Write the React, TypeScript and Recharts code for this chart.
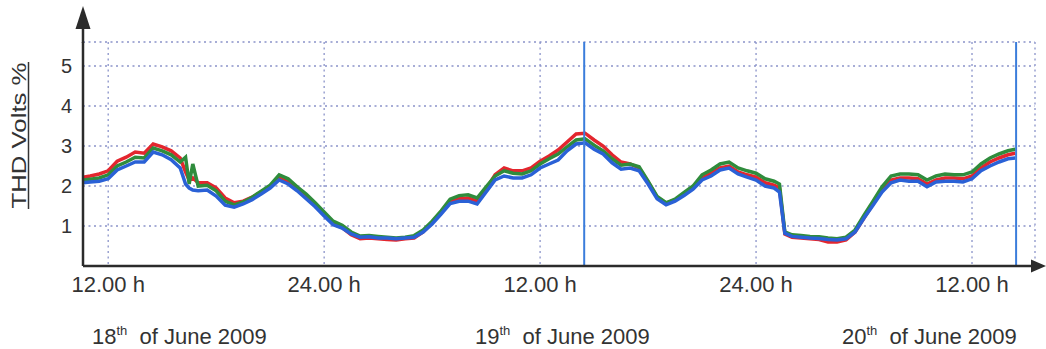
import React from 'react'
import { LineChart, Line, XAxis, YAxis, CartesianGrid, ReferenceLine } from 'recharts'

// THD voltage over three days (18–20 June 2009), three phases
const FONT = "'Liberation Sans', Arial, sans-serif"
const TEXT = '#333333'
const AXIS = '#2b2b2b'
const GRID = '#8a93c9'

const W = 1046
const H = 349
const PLOT_LEFT = 83
const PLOT_TOP = 42
const PLOT_BOTTOM = 266
const PLOT_RIGHT = 1035

const hours = [
  10.6, 11, 11.5, 12, 12.5, 13, 13.5, 14, 14.5, 15, 15.5, 16, 16.3, 16.5, 16.7, 17, 17.5, 18, 18.5, 19,
  19.5, 20, 20.5, 21, 21.5, 22, 22.5, 23, 23.5, 24, 24.5, 25, 25.5, 26, 26.5, 27, 27.5, 28, 28.5, 29,
  29.5, 30, 30.5, 31, 31.5, 32, 32.5, 33, 33.5, 34, 34.5, 35, 35.5, 36, 36.5, 37, 37.5, 38, 38.5, 39,
  39.5, 40, 40.5, 41, 41.5, 42, 42.5, 43, 43.5, 44, 44.5, 45, 45.5, 46, 46.5, 47, 47.5, 48, 48.5, 49,
  49.3, 49.6, 50, 50.5, 51, 51.5, 52, 52.5, 53, 53.5, 54, 54.5, 55, 55.5, 56, 56.5, 57, 57.5, 58, 58.5,
  59, 59.5, 60, 60.5, 61, 61.5, 62, 62.4,
]

const redThd = [
  2.22, 2.25, 2.3, 2.38, 2.62, 2.72, 2.85, 2.82, 3.05, 2.98, 2.88, 2.7, 2.35, 2.15, 2.2, 2.08, 2.08, 1.95, 1.7, 1.58,
  1.62, 1.72, 1.85, 1.98, 2.2, 2.1, 1.9, 1.72, 1.52, 1.28, 1.05, 0.96, 0.78, 0.68, 0.7, 0.68, 0.66, 0.65, 0.68, 0.7,
  0.85, 1.08, 1.33, 1.6, 1.68, 1.7, 1.62, 1.92, 2.28, 2.45, 2.38, 2.38, 2.45, 2.62, 2.75, 2.9, 3.1, 3.3, 3.32, 3.15,
  3.0, 2.78, 2.6, 2.55, 2.45, 2.1, 1.72, 1.57, 1.65, 1.8, 1.95, 2.2, 2.32, 2.45, 2.5, 2.35, 2.28, 2.22, 2.08, 2.02,
  1.95, 0.8, 0.72, 0.7, 0.68, 0.66, 0.6, 0.6, 0.65, 0.85, 1.2, 1.55, 1.9, 2.15, 2.2, 2.2, 2.18, 2.05, 2.15, 2.2,
  2.2, 2.18, 2.25, 2.45, 2.6, 2.7, 2.78, 2.82,
]

const greenThd = [
  2.15, 2.17, 2.2, 2.28, 2.5, 2.6, 2.72, 2.7, 2.95, 2.88, 2.78, 2.6, 2.72, 2.05, 2.55, 2.0, 2.02, 1.88, 1.62, 1.53,
  1.6, 1.72, 1.87, 2.02, 2.28, 2.18, 1.98, 1.8, 1.58, 1.35, 1.12, 1.02, 0.85, 0.75, 0.76, 0.74, 0.72, 0.7, 0.72, 0.76,
  0.9, 1.12, 1.38, 1.67, 1.76, 1.78, 1.7, 1.98, 2.25, 2.38, 2.32, 2.3, 2.38, 2.55, 2.68, 2.8, 2.98, 3.15, 3.18, 3.02,
  2.88, 2.68, 2.52, 2.55, 2.48, 2.12, 1.74, 1.58, 1.67, 1.84, 2.0, 2.28, 2.4, 2.55, 2.6, 2.45, 2.38, 2.32, 2.18, 2.12,
  2.05, 0.85, 0.78, 0.76, 0.74, 0.73, 0.7, 0.68, 0.72, 0.9, 1.27, 1.62, 1.98, 2.25, 2.3, 2.3, 2.28, 2.15, 2.25, 2.3,
  2.28, 2.28, 2.35, 2.55, 2.7, 2.8, 2.88, 2.92,
]

const blueThd = [
  2.08, 2.1, 2.12, 2.18, 2.4, 2.5, 2.6, 2.6, 2.85, 2.78, 2.66, 2.45, 2.05, 1.95, 1.9, 1.88, 1.9, 1.75, 1.52, 1.47,
  1.55, 1.66, 1.8, 1.95, 2.15, 2.05, 1.88, 1.68, 1.48, 1.25, 1.03, 0.95, 0.8, 0.72, 0.73, 0.7, 0.7, 0.68, 0.7, 0.72,
  0.85, 1.05, 1.3, 1.56, 1.62, 1.62, 1.55, 1.85, 2.15, 2.25, 2.2, 2.2, 2.28, 2.45, 2.55, 2.65, 2.88, 3.05, 3.08, 2.92,
  2.8, 2.58, 2.42, 2.45, 2.38, 2.05, 1.68, 1.53, 1.62, 1.76, 1.92, 2.15, 2.25, 2.4, 2.45, 2.3, 2.22, 2.15, 2.0, 1.95,
  1.85, 0.82, 0.74, 0.72, 0.7, 0.69, 0.66, 0.65, 0.68, 0.85, 1.2, 1.52, 1.85, 2.08, 2.15, 2.12, 2.12, 1.98, 2.1, 2.12,
  2.12, 2.1, 2.18, 2.38, 2.5, 2.6, 2.68, 2.7,
]

const xTicks = [12, 24, 36, 48, 60]
const xTickLabels = ['12.00 h', '24.00 h', '12.00 h', '24.00 h', '12.00 h']
const yTicks = [1, 2, 3, 4, 5]
const cursorHours = [38.45, 62.45]

const dayLabels = [
  { day: '18', x: 92 },
  { day: '19', x: 475 },
  { day: '20', x: 842 },
]

const data = hours.map((h, i) => ({ hour: h, red: redThd[i], green: greenThd[i], blue: blueThd[i] }))

function XTick({ x, y, payload }: { x?: number; y?: number; payload?: { value: number } }) {
  const idx = xTicks.indexOf(payload?.value ?? -1)
  return (
    <text x={x} y={(y ?? 0) + 26} textAnchor="middle" fontSize={22} fontFamily={FONT} fill={TEXT}>
      {xTickLabels[idx] ?? ''}
    </text>
  )
}

function YTick({ x, y, payload }: { x?: number; y?: number; payload?: { value: number } }) {
  return (
    <text x={(x ?? 0) - 11} y={(y ?? 0) + 7} textAnchor="end" fontSize={20} fontFamily={FONT} fill={TEXT}>
      {payload?.value}
    </text>
  )
}

export default function App() {
  return (
    <div style={{ position: 'absolute', left: 0, top: 0, width: W, height: H, background: '#fff' }}>
      <LineChart width={W} height={H} data={data} margin={{ top: PLOT_TOP, right: W - PLOT_RIGHT, bottom: 0, left: 0 }}>
        <CartesianGrid stroke={GRID} strokeWidth={1.3} strokeDasharray="2 3.5" />
        <XAxis
          type="number"
          dataKey="hour"
          domain={[10.6, 63.5]}
          ticks={xTicks}
          allowDataOverflow
          height={H - PLOT_BOTTOM}
          tickSize={0}
          tickMargin={0}
          tickLine={false}
          axisLine={{ stroke: AXIS, strokeWidth: 2.5 }}
          tick={<XTick />}
        />
        <YAxis
          type="number"
          domain={[0, 5.6]}
          ticks={yTicks}
          allowDataOverflow
          width={PLOT_LEFT}
          tickSize={0}
          tickMargin={0}
          tickLine={false}
          axisLine={{ stroke: AXIS, strokeWidth: 2.5 }}
          tick={<YTick />}
        />
        <Line type="linear" dataKey="red" stroke="#e3262e" strokeWidth={3.5} dot={false} isAnimationActive={false} />
        <Line type="linear" dataKey="green" stroke="#2f8c3c" strokeWidth={3.5} dot={false} isAnimationActive={false} />
        <Line type="linear" dataKey="blue" stroke="#2a61d6" strokeWidth={3.5} dot={false} isAnimationActive={false} />
        {cursorHours.map(h => (
          <ReferenceLine key={h} x={h} stroke="#3b7ddb" strokeWidth={2} />
        ))}
      </LineChart>

      {/* axis arrows, y label and day captions */}
      <svg width={W} height={H} style={{ position: 'absolute', left: 0, top: 0, pointerEvents: 'none' }}>
        <line x1={PLOT_LEFT} y1={26} x2={PLOT_LEFT} y2={PLOT_TOP + 1} stroke={AXIS} strokeWidth={2.5} />
        <polygon points={`${PLOT_LEFT},6 ${PLOT_LEFT - 7.5},29 ${PLOT_LEFT + 7.5},29`} fill={AXIS} />
        <line x1={PLOT_RIGHT - 1} y1={PLOT_BOTTOM} x2={1033} y2={PLOT_BOTTOM} stroke={AXIS} strokeWidth={2.5} />
        <polygon points={`${W},${PLOT_BOTTOM} 1031,${PLOT_BOTTOM - 6.5} 1031,${PLOT_BOTTOM + 6.5}`} fill={AXIS} />

        <text
          transform="translate(25.5,135.5) rotate(-90)"
          textAnchor="middle"
          fontSize={20}
          fontFamily={FONT}
          fill={TEXT}
          textLength={146}
          lengthAdjust="spacingAndGlyphs"
        >
          THD Volts %
        </text>
        <line x1={28.5} y1={62} x2={28.5} y2={209} stroke={TEXT} strokeWidth={1.5} />

        {dayLabels.map(d => (
          <text key={d.day} x={d.x} y={344} fontSize={22} fontFamily={FONT} fill={TEXT}>
            {d.day}
            <tspan fontSize={13} dy={-9}>th</tspan>
            <tspan dy={9} xmlSpace="preserve">{'\u00a0 of June 2009'}</tspan>
          </text>
        ))}
      </svg>
    </div>
  )
}
